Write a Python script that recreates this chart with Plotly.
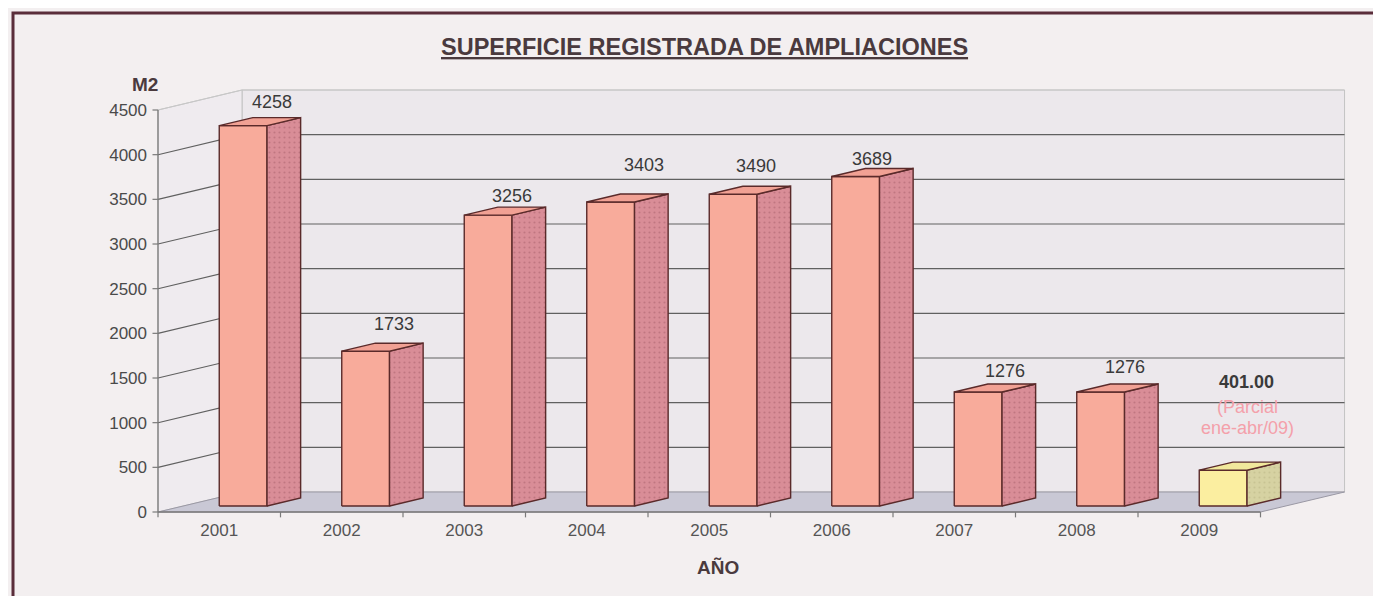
import plotly.graph_objects as go

# ---- data ----
years = ["2001", "2002", "2003", "2004", "2005", "2006", "2007", "2008", "2009"]
values = [4258, 1733, 3256, 3403, 3490, 3689, 1276, 1276, 401]
value_labels = ["4258", "1733", "3256", "3403", "3490", "3689", "1276", "1276", "401.00"]
y_ticks = [0, 500, 1000, 1500, 2000, 2500, 3000, 3500, 4000, 4500]
note_lines = ["(Parcial", "ene-abr/09)"]

# ---- style / geometry (pseudo 3D) ----
DX, DY = 0.686, 224          # full depth vector in axis units
BAR_W = 0.39                 # bar front width (category units)
BAR_X0 = 0.5                 # bar front-left offset inside category
BF = 0.30                    # bar front depth fraction
BD = 0.40                    # bar depth fraction
label_xshift = [12, 12, 7, 17, 6, 0, 10, 8, 7]
label_yshift = [16, 19, 11, 29, 20, 9, 13, 17, 80]
note_yshift = [55, 34]
FONT = "Liberation Sans, Arial, sans-serif"

N = len(years)
YMAX = y_ticks[-1]
BG = "#f3eff0"
WALL = "#ece8ec"
FLOOR = "#c9c8d5"
GRID = "#606060"
EDGE = "#5a2a2a"

fig = go.Figure()

def poly(xs, ys, fill, line_color, width, pattern=None):
    kw = {}
    if pattern:
        kw["fillpattern"] = pattern
    fig.add_trace(go.Scatter(x=xs, y=ys, fill="toself", fillcolor=fill, mode="lines",
                             line=dict(color=line_color, width=width),
                             hoverinfo="skip", showlegend=False, **kw))

def seg(xs, ys, color, width):
    fig.add_trace(go.Scatter(x=xs, y=ys, mode="lines", line=dict(color=color, width=width),
                             hoverinfo="skip", showlegend=False))

# back wall
poly([DX, DX + N, DX + N, DX, DX], [DY, DY, DY + YMAX, DY + YMAX, DY], WALL, "#c4c4c4", 1)
# left wall
poly([0, DX, DX, 0, 0], [0, DY, DY + YMAX, YMAX, 0], "#efebef", "#c4c4c4", 1)
# floor
poly([0, N, N + DX, DX, 0], [0, 0, DY, DY, 0], FLOOR, "#9a98a4", 1)

# gridlines
gx, gy = [], []
for v in y_ticks[1:-1]:
    gx += [0, DX, DX + N, None]
    gy += [v, v + DY, v + DY, None]
seg(gx, gy, GRID, 1.1)
seg([0, DX, DX + N], [YMAX, YMAX + DY, YMAX + DY], "#c8c8c8", 1)

# front axes
seg([0, 0], [0, YMAX], "#7a7a7a", 1.3)
seg([0, N], [0, 0], "#7a7a7a", 1.6)
tx, ty = [], []
for v in y_ticks:
    tx += [0, -0.045, None]
    ty += [v, v, None]
for k in range(N + 1):
    tx += [k, k, None]
    ty += [0, -60, None]
seg(tx, ty, "#7a7a7a", 1.2)

# bars
fx, fy = BF * DX, BF * DY
bx, by = BD * DX, BD * DY
for i, v in enumerate(values):
    x0 = i + BAR_X0
    x1 = x0 + BAR_W
    y0 = fy
    y1 = fy + v
    last = (i == N - 1)
    front_c = "#fbeea0" if last else "#f8ab9b"
    side_c = "#d6d2a2" if last else "#d98d97"
    top_c = "#f1e89c" if last else "#f1a194"
    dot_c = "#b9b384" if last else "#a8606c"
    poly([x0, x1, x1, x0, x0], [y0, y0, y1, y1, y0], front_c, EDGE, 1.4)
    poly([x1, x1 + bx, x1 + bx, x1, x1], [y0, y0 + by, y1 + by, y1, y0], side_c, EDGE, 1.4,
         pattern=dict(shape=".", fgcolor=dot_c, bgcolor=side_c, size=5, solidity=0.15))
    poly([x0, x1, x1 + bx, x0 + bx, x0], [y1, y1, y1 + by, y1 + by, y1], top_c, EDGE, 1.4)

# value labels
for i, v in enumerate(values):
    last = (i == N - 1)
    txt = "<b>%s</b>" % value_labels[i] if last else value_labels[i]
    fig.add_annotation(x=i + BAR_X0 + BAR_W / 2 + bx / 2, y=fy + v + by,
                       text=txt, showarrow=False, xanchor="center", yanchor="middle",
                       xshift=label_xshift[i], yshift=label_yshift[i],
                       font=dict(family=FONT, size=18, color="#3a3a3a"))
# partial note
for j, t in enumerate(note_lines):
    fig.add_annotation(x=N - 1 + BAR_X0 + BAR_W / 2 + bx / 2, y=fy + values[-1] + by,
                       text=t, showarrow=False, xanchor="center", yanchor="middle",
                       xshift=8, yshift=note_yshift[j],
                       font=dict(family=FONT, size=18, color="#f4a0aa"))

OFF = 8                      # page body margin
W, H = 1381 - OFF, 596 - OFF
L, R, T, B = 144, 26, 72, 78
PXX = 122.5
PXY = 0.08933
pw, ph = W - L - R, H - T - B
x_lo = -(158 - OFF - L) / PXX
y_lo = -((H - B) - (512 - OFF)) / PXY

def paper_x(px):
    return (px - OFF - L) / pw

def paper_y(py):
    return (H - B - (py - OFF)) / ph

fig.add_annotation(xref="paper", yref="paper", x=paper_x(704), y=paper_y(47),
                   xanchor="center", yanchor="middle",
                   text="<b><u>SUPERFICIE REGISTRADA DE AMPLIACIONES</u></b>", showarrow=False,
                   font=dict(family=FONT, size=23.5, color="#4a3a3e"))
fig.add_annotation(xref="paper", yref="paper", x=paper_x(145), y=paper_y(84),
                   xanchor="center", yanchor="middle",
                   text="<b>M2</b>", showarrow=False,
                   font=dict(family=FONT, size=19, color="#4a3a3e"))
fig.add_annotation(xref="paper", yref="paper", x=paper_x(718), y=paper_y(567),
                   xanchor="center", yanchor="middle",
                   text="<b>AÑO</b>", showarrow=False,
                   font=dict(family=FONT, size=19, color="#4a3a3e"))

fig.add_shape(type="rect", xref="paper", yref="paper",
              x0=paper_x(13), x1=paper_x(1395), y0=paper_y(620), y1=paper_y(13),
              line=dict(color="#5a2d3a", width=3), layer="above")

fig.update_layout(
    width=W, height=H,
    margin=dict(l=L, r=R, t=T, b=B, autoexpand=False),
    paper_bgcolor=BG, plot_bgcolor=BG,
    xaxis=dict(range=[x_lo, x_lo + pw / PXX], showgrid=False, zeroline=False, showline=False,
               tickvals=[i + 0.5 for i in range(N)], ticktext=years, ticks="",
               tickfont=dict(family=FONT, size=17, color="#555555"),
               fixedrange=True),
    yaxis=dict(range=[y_lo, y_lo + ph / PXY], showgrid=False, zeroline=False, showline=False,
               tickvals=y_ticks, ticktext=[str(v) for v in y_ticks], ticks="",
               ticklabelstandoff=4,
               tickfont=dict(family=FONT, size=17, color="#4a4a4a"),
               fixedrange=True),
)

fig.write_html("out.html")
